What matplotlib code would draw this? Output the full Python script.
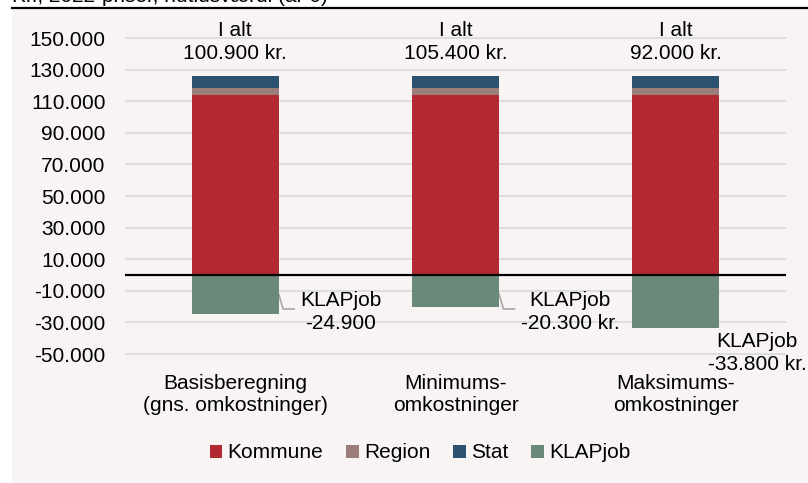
import matplotlib
matplotlib.use("Agg")
import matplotlib.pyplot as plt
from matplotlib.patches import Rectangle
from matplotlib.lines import Line2D

plt.rcParams["font.family"] = ["Liberation Sans", "DejaVu Sans"]

CATEGORIES = ["Basisberegning\n(gns. omkostninger)", "Minimums-\nomkostninger",
              "Maksimums-\nomkostninger"]
KOMMUNE = [113900, 113900, 113900]
REGION = [4400, 4400, 4400]
STAT = [7500, 7500, 7500]
KLAPJOB = [-24900, -20300, -33800]
TOTAL_LABELS = ["I alt\n100.900 kr.", "I alt\n105.400 kr.", "I alt\n92.000 kr."]
KLAP_LABELS = ["KLAPjob\n-24.900", "KLAPjob\n-20.300 kr.", "KLAPjob\n-33.800 kr."]
YTICKS = list(range(-50000, 150001, 20000))
TITLE = "Kr., 2022-priser, nutidsværdi (år 0)"

COLORS = {"Kommune": "#b2292f", "Region": "#9b7d7a", "Stat": "#2d5270",
          "KLAPjob": "#6b8978"}
BG = "#f7f4f3"
FS = 15
LS = 1.22
W, H = 808, 483

fig = plt.figure(figsize=(W / 100, H / 100), dpi=100)
fig.patch.set_facecolor("white")
# light panel with black top rule (drawn below the axes)
fig.patches.append(Rectangle((12 / W, 0), 1, 1 - 8 / H, transform=fig.transFigure,
                             facecolor=BG, edgecolor="none", zorder=-5))
fig.lines.append(Line2D([12 / W, 1], [1 - 7.5 / H, 1 - 7.5 / H], transform=fig.transFigure,
                        color="black", lw=1.6, zorder=-4))
fig.text(12 / W, 1 - 2 / H, TITLE, fontsize=FS, va="baseline", ha="left")

ax = fig.add_axes([125 / W, (H - 357.16) / H, 661 / W, 322.32 / H])
ax.set_facecolor("none")
x = list(range(len(CATEGORIES)))
bw = 0.395
ax.bar(x, KOMMUNE, bw, color=COLORS["Kommune"], label="Kommune", zorder=3)
ax.bar(x, REGION, bw, bottom=KOMMUNE, color=COLORS["Region"], label="Region", zorder=3)
bottom2 = [k + r for k, r in zip(KOMMUNE, REGION)]
ax.bar(x, STAT, bw, bottom=bottom2, color=COLORS["Stat"], label="Stat", zorder=3)
ax.bar(x, KLAPJOB, bw, color=COLORS["KLAPjob"], label="KLAPjob", zorder=3)

ax.axhline(0, color="black", lw=1.6, zorder=4)
ax.set_xlim(-0.5, 2.5)
ax.set_ylim(-52000, 152000)
ax.set_yticks(YTICKS)
ax.set_yticklabels([f"{v:,}".replace(",", ".") for v in YTICKS], fontsize=FS)
ax.grid(axis="y", color="#d9d9d9", lw=1.2, zorder=0)
ax.set_xticks(x)
ax.set_xticklabels(CATEGORIES, fontsize=FS, linespacing=LS)
ax.tick_params(axis="y", length=0, pad=14)
ax.tick_params(axis="x", length=0, pad=12)
for s in ax.spines.values():
    s.set_visible(False)

for i, lab in enumerate(TOTAL_LABELS):
    ax.text(x[i], 147500, lab, ha="center", va="center", fontsize=FS,
            linespacing=LS, clip_on=False)

klap_pos = [(0.48, -23400), (1.52, -23400), (2.37, -49400)]
for i, (lab, (tx, ty)) in enumerate(zip(KLAP_LABELS, klap_pos)):
    ax.text(tx, ty, lab, ha="center", va="center", fontsize=FS,
            linespacing=LS, clip_on=False, zorder=5)
    if i < 2:
        e = x[i] + bw / 2
        ax.plot([e, e + 0.02, e + 0.07], [-12000, -21500, -21500],
                color="#a6a6a6", lw=1.2, zorder=2)

fig.legend(loc="center", bbox_to_anchor=(420 / W, 1 - 453 / H), ncol=4,
           frameon=False, fontsize=FS, handlelength=0.6, handleheight=0.6,
           handletextpad=0.25, columnspacing=1.1)

fig.savefig("out.png", dpi=100, facecolor=fig.get_facecolor())
